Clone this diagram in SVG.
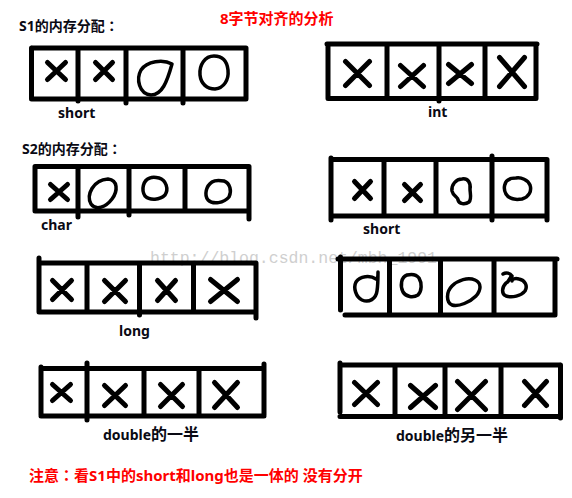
<svg xmlns="http://www.w3.org/2000/svg" width="572" height="498" viewBox="0 0 572 498">
<style>
.ln{stroke:#000;stroke-width:5;stroke-linecap:round;fill:none}
.x{stroke:#000;stroke-width:5;stroke-linecap:round;fill:none}
.blob{stroke:#000;stroke-width:3.5;fill:none;stroke-linejoin:round;stroke-linecap:round}
.t{font-family:"Noto Sans","Noto Sans CJK SC",sans-serif;font-weight:bold;font-size:14px;fill:#0a0a14}
.r{font-family:"Noto Sans","Noto Sans CJK SC",sans-serif;font-weight:bold;font-size:15px;fill:#ff0000}
.cj{font-size:16px}
.col{font-family:"Noto Sans CJK JP",sans-serif}
.wm{font-family:"Liberation Mono",monospace;font-size:16.5px;fill:#cfcfcf}
</style>
<rect width="572" height="498" fill="#fff"/>
<text class="wm" x="150" y="263" textLength="287">http://blog.csdn.net/mbh_1991</text>

<g id="title"><text class="r" x="220" y="24">8字节对齐的分析</text></g>
<g id="s1-heading"><text class="t" x="19" y="31">S1的内存分配<tspan class="col">：</tspan></text></g>
<g id="s2-heading"><text class="t" x="22" y="154">S2的内存分配<tspan class="col">：</tspan></text></g>

<g id="s1-short">
<path class="ln" d="M32 48H246M32 99H246M31.5 48V99M78 48V101M126 48V103M183 48V103M246 48V99"/>
<path class="x" d="M47.5 62.5L65.5 79.5M65.5 62.5L47.5 79.5M95.5 62.5L112.5 79.5M112.5 62.5L95.5 79.5"/>
<path class="blob" d="M172 64C163 59 147 61 141 70C136 79 139 94 151 95C162 95 167 82 172 64Z"/>
<path class="blob" d="M214 56C205 56 199 65 200 75C201 84 207 89 215 89C224 88 229 80 228 70C227 61 222 56 214 56Z"/>
<text class="t" x="58" y="118">short</text>
</g>

<g id="s1-int">
<path class="ln" d="M327 44H537M328 98.5H536M328 44V98.5M387 44V98.5M439 44V101M485 44V98.5M536 44V98.5"/>
<path class="x" d="M345.5 61.5L369.5 85.5M369.5 61.5L345.5 85.5M400.5 65.5L423.5 86.5M423.5 65.5L400.5 86.5M448.5 64.5L471.5 83.5M471.5 64.5L448.5 83.5M499.5 57.5L524.5 86.5M524.5 57.5L499.5 86.5"/>
<text class="t" x="428" y="117">int</text>
</g>

<g id="s2-char">
<path class="ln" d="M35 166.5H249M35 211H249M35 166.5V211M78 166.5V217M129 166.5V215M185 166.5V211M249 166.5V219"/>
<path class="x" d="M50.5 184.5L67.5 199.5M67.5 184.5L50.5 199.5"/>
<path class="blob" d="M108 179C118 180 118 191 112 199C106 207 96 211 91 204C86 195 93 180 108 179Z"/>
<path class="blob" d="M150 178C143 180 141 190 145 196C150 201 160 200 165 195C169 189 166 180 159 178C155 177 152 177 150 178Z"/>
<path class="blob" d="M212 182C206 186 204 195 208 200C213 205 224 203 229 197C232 191 230 183 224 181C219 180 215 180 212 182Z"/>
<text class="t" x="41" y="230">char</text>
</g>

<g id="s2-short">
<path class="ln" d="M331 159.5H547M331 216H547M331 158V220M384 159.5V216M436 159.5V216M492 156V220M547 159.5V220"/>
<path class="x" d="M354.5 181.5L370.5 198.5M370.5 181.5L354.5 198.5M404.5 184.5L420.5 200.5M420.5 184.5L404.5 200.5"/>
<path class="blob" d="M462 179C456 179 451 185 452 191C453 196 458 197 458 200C459 204 465 205 469 202C472 199 470 193 470 189C471 183 468 178 462 179Z"/>
<path class="blob" d="M510 179C504 181 503 189 506 194C509 199 516 200 522 199C529 197 532 191 530 185C528 180 521 177 516 178C513 178 511 178 510 179Z"/>
<text class="t" x="363" y="234">short</text>
</g>

<g id="s2-long">
<path class="ln" d="M39 263H256M39 312H256M39 258V312M87 263V312M139.5 263V315M193.5 263V312M256 263V318"/>
<path class="x" d="M52.5 280.5L71.5 299.5M71.5 280.5L52.5 299.5M104.5 280.5L125.5 301.5M125.5 280.5L104.5 301.5M157.5 280.5L175.5 300.5M175.5 280.5L157.5 300.5M210.5 279.5L237.5 301.5M237.5 279.5L210.5 301.5"/>
<text class="t" x="119" y="336">long</text>
</g>

<g id="s2-blobs">
<path class="ln" d="M338 259H557M345 315H555M340.5 257V310M389.5 259V315M440.5 259V315M494 259V315M555 259V315"/>
<path class="blob" d="M378 272C378 277 378 278 376 279C370 275 360 276 356 282C353 288 356 297 362 300C369 303 376 299 377 291C378 285 378 279 378 272"/>
<path class="blob" d="M407 275C401 277 400 286 403 292C406 297 413 298 418 295C422 291 422 283 419 278C416 274 411 274 407 275Z"/>
<path class="blob" d="M475 280C468 277 458 280 452 286C446 292 446 302 452 305C459 307 470 302 476 296C481 290 482 283 475 280Z"/>
<path class="blob" d="M503 274C506 272 510 273 512 276C508 279 510 281 506 283C502 287 501 294 506 296C512 298 521 296 525 291C528 286 525 280 519 279C515 278 512 279 512 281"/>
</g>

<g id="double-half">
<path class="ln" d="M41 368.5H264M41 416H264M41 367V415M87 363V420M144 368.5V416M199 368.5V416M264 364V415"/>
<path class="x" d="M52.5 384.5L70.5 400.5M70.5 384.5L52.5 400.5M104.5 385.5L125.5 405.5M125.5 385.5L104.5 405.5M160.5 384.5L182.5 406.5M182.5 384.5L160.5 406.5M214.5 382.5L237.5 407.5M237.5 382.5L214.5 407.5"/>
<text class="t" x="103" y="440">double<tspan class="cj">的一半</tspan></text>
</g>

<g id="double-other-half">
<path class="ln" d="M340 365H560M340 416.5H560M340 363V412M395 365V416.5M445 365V416.5M501 365V416.5M560.5 365V418"/>
<path class="x" d="M354.5 382.5L377.5 404.5M377.5 382.5L354.5 404.5M410.5 385.5L435.5 407.5M435.5 385.5L410.5 407.5M457.5 381.5L485.5 409.5M485.5 381.5L457.5 409.5M524.5 381.5L546.5 405.5M546.5 381.5L524.5 405.5"/>
<text class="t" x="396" y="441">double<tspan class="cj">的另一半</tspan></text>
</g>

<g id="note"><text class="r" x="29" y="481">注意<tspan class="col">：</tspan>看S1中的short和long也是一体的 没有分开</text></g>
</svg>
